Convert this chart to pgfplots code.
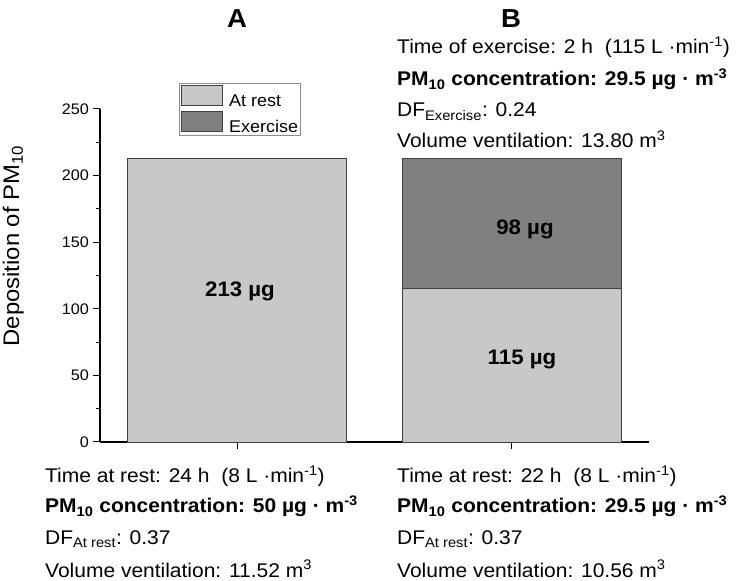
\documentclass[border=0pt]{standalone}
\usepackage{fontspec}
\setmainfont[FakeStretch=1.06]{Liberation Sans}
\usepackage{pgfplots}
\pgfplotsset{compat=1.18}
\definecolor{rest}{RGB}{200,200,200}
\definecolor{exer}{RGB}{128,128,128}
\newcommand{\fs}[1]{\fontsize{#1bp}{#1bp}\selectfont}
\begin{document}
\begin{tikzpicture}
\useasboundingbox (0,0) rectangle (737bp,581bp);
\begin{axis}[
  scale only axis, width=549bp, height=333bp,
  at={(100bp,139bp)}, anchor=south west,
  xmin=-0.5, xmax=1.5, ymin=0, ymax=250,
  axis x line*=bottom, axis y line*=left,
  axis line style={line width=1.2bp, -},
  ybar stacked, bar width=219bp,
  xtick={0,1}, xticklabels={},
  ytick={0,50,...,250}, minor ytick={25,75,...,225},
  tick align=outside, major tick length=7.5bp, minor tick length=4bp,
  tick style={line width=1bp, black},
  /pgf/number format/assume math mode=true,
  yticklabel style={font=\fs{15.3}},
  legend style={at={(0.144,1.078)}, anchor=north west, draw=black!45, line width=0.6bp,
    inner sep=2bp, row sep=3bp, column sep=6bp, font=\fs{17}, nodes={inner sep=0pt}},
  legend cell align=left,
  legend image code/.code={\draw[#1, line width=0.8bp] (0bp,-4.5bp) rectangle (41bp,15.5bp);},
  clip=false,
]
\addplot[fill=rest, draw=black!75, line width=0.8bp] coordinates {(0,213) (1,115)};
\addplot[fill=exer, draw=black!75, line width=0.8bp] coordinates {(0,0) (1,98)};
\legend{At rest, Exercise}
\end{axis}
\node[anchor=base, inner sep=0pt, font=\bfseries\fs{21}] at (240bp,284bp) {213 µg};
\node[anchor=base, inner sep=0pt, font=\bfseries\fs{21}] at (525bp,346bp) {98 µg};
\node[anchor=base, inner sep=0pt, font=\bfseries\fs{21}] at (522bp,216bp) {115 µg};
\node[rotate=90, anchor=base, inner sep=0pt, font=\fs{22.5}] at (19bp,335bp) {Deposition of PM\textsubscript{10}};
\node[anchor=base, inner sep=0pt, font=\bfseries\fs{26}] at (237bp,553bp) {A};
\node[anchor=base, inner sep=0pt, font=\bfseries\fs{26}] at (511bp,553bp) {B};
\begin{scope}[every node/.style={anchor=base west, inner sep=0pt, font=\fs{19.8}}]
\node at (397bp,527bp) {Time of exercise: 2 h~~(115 L ·min\textsuperscript{-1})};
\node[font=\bfseries\fs{19.8}] at (397bp,495bp) {PM\textsubscript{10} concentration: 29.5 µg · m\textsuperscript{-3}};
\node at (397bp,464bp) {DF\textsubscript{Exercise}: 0.24};
\node at (397bp,433bp) {Volume ventilation: 13.80 m\textsuperscript{3}};
\node at (45bp,98bp) {Time at rest: 24 h~~(8 L ·min\textsuperscript{-1})};
\node[font=\bfseries\fs{19.8}] at (45bp,68bp) {PM\textsubscript{10} concentration: 50 µg · m\textsuperscript{-3}};
\node at (45bp,37bp) {DF\textsubscript{At rest}: 0.37};
\node at (45bp,4bp) {Volume ventilation: 11.52 m\textsuperscript{3}};
\node at (397bp,98bp) {Time at rest: 22 h~~(8 L ·min\textsuperscript{-1})};
\node[font=\bfseries\fs{19.8}] at (397bp,68bp) {PM\textsubscript{10} concentration: 29.5 µg · m\textsuperscript{-3}};
\node at (397bp,37bp) {DF\textsubscript{At rest}: 0.37};
\node at (397bp,4bp) {Volume ventilation: 10.56 m\textsuperscript{3}};
\end{scope}
\end{tikzpicture}
\end{document}
